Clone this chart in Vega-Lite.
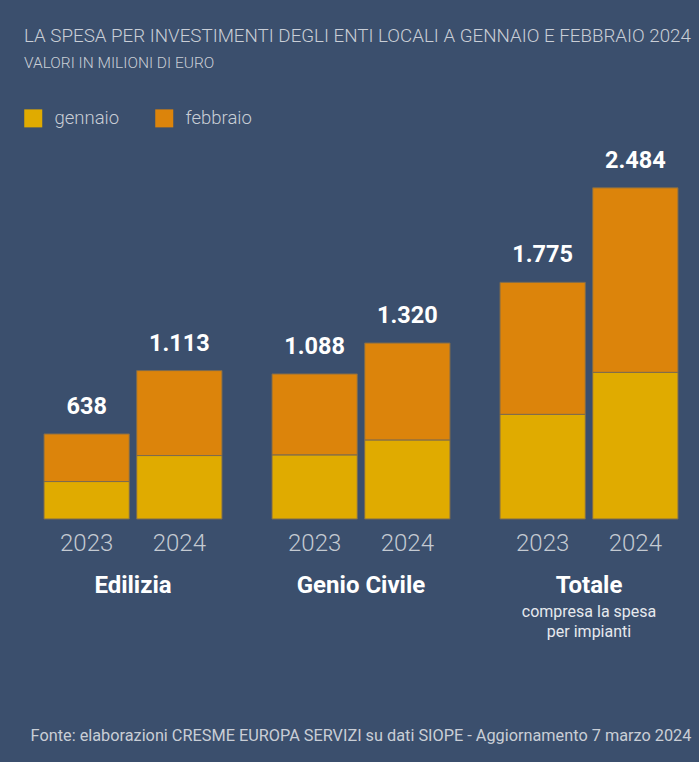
{
  "$schema": "https://vega.github.io/schema/vega-lite/v6.json",
  "background": "#3b4f6d",
  "padding": {"left": 24, "top": 26, "right": 7, "bottom": 20},
  "title": {
    "text": "LA SPESA PER INVESTIMENTI DEGLI ENTI LOCALI A GENNAIO E FEBBRAIO 2024",
    "subtitle": "VALORI IN MILIONI DI EURO",
    "anchor": "start",
    "font": "Roboto",
    "fontSize": 18.75,
    "fontWeight": 300,
    "color": "#c9ced6",
    "subtitleFont": "Roboto",
    "subtitleFontSize": 15.5,
    "subtitleFontWeight": 300,
    "subtitleColor": "#c9ced6",
    "subtitlePadding": 10,
    "offset": 38
  },
  "data": {
    "values": [
      {"cat": "Edilizia", "year": "2023", "month": "gennaio", "mi": 1, "value": 281, "total": 638},
      {"cat": "Edilizia", "year": "2023", "month": "febbraio", "mi": 2, "value": 357, "total": 638},
      {"cat": "Edilizia", "year": "2024", "month": "gennaio", "mi": 1, "value": 476, "total": 1113},
      {"cat": "Edilizia", "year": "2024", "month": "febbraio", "mi": 2, "value": 637, "total": 1113},
      {"cat": "Genio Civile", "year": "2023", "month": "gennaio", "mi": 1, "value": 481, "total": 1088},
      {"cat": "Genio Civile", "year": "2023", "month": "febbraio", "mi": 2, "value": 607, "total": 1088},
      {"cat": "Genio Civile", "year": "2024", "month": "gennaio", "mi": 1, "value": 593, "total": 1320},
      {"cat": "Genio Civile", "year": "2024", "month": "febbraio", "mi": 2, "value": 727, "total": 1320},
      {"cat": "Totale", "year": "2023", "month": "gennaio", "mi": 1, "value": 785, "total": 1775, "note": "compresa la spesa\nper impianti"},
      {"cat": "Totale", "year": "2023", "month": "febbraio", "mi": 2, "value": 990, "total": 1775},
      {"cat": "Totale", "year": "2024", "month": "gennaio", "mi": 1, "value": 1100, "total": 2484},
      {"cat": "Totale", "year": "2024", "month": "febbraio", "mi": 2, "value": 1384, "total": 2484}
    ]
  },
  "facet": {
    "column": {
      "field": "cat",
      "type": "nominal",
      "sort": ["Edilizia", "Genio Civile", "Totale"],
      "header": {
        "title": "Fonte: elaborazioni CRESME EUROPA SERVIZI su dati SIOPE - Aggiornamento 7 marzo 2024",
        "titleOrient": "bottom",
        "labelOrient": "bottom",
        "labelFont": "Roboto",
        "labelFontSize": 24,
        "labelFontWeight": "bold",
        "labelColor": "#ffffff",
        "labelPadding": 19,
        "titleFont": "Roboto",
        "titleFontSize": 16.3,
        "titleFontWeight": "normal",
        "titleColor": "#c9ced6",
        "titlePadding": 120,
        "titleAnchor": "middle"
      }
    }
  },
  "spacing": 50,
  "bounds": "flush",
  "spec": {
    "width": 178,
    "height": 360,
    "layer": [
      {
        "mark": {"type": "bar", "stroke": "#7d6b4f", "strokeWidth": 1},
        "encoding": {
          "x": {
            "field": "year",
            "type": "ordinal",
            "scale": {"paddingInner": 0.08, "paddingOuter": 0},
            "axis": {
              "title": null,
              "labelAngle": 0,
              "ticks": false,
              "domain": false,
              "grid": false,
              "labelFont": "Roboto",
              "labelFontSize": 24,
              "labelFontWeight": 300,
              "labelColor": "#c4cad2",
              "labelPadding": 12
            }
          },
          "y": {
            "field": "value",
            "type": "quantitative",
            "stack": "zero",
            "axis": null,
            "scale": {"domain": [0, 2700], "nice": false}
          },
          "color": {
            "field": "month",
            "type": "nominal",
            "scale": {"domain": ["gennaio", "febbraio"], "range": ["#e0ab00", "#dc840b"]},
            "legend": {
              "orient": "none",
              "legendX": -20,
              "legendY": -50,
              "direction": "horizontal",
              "title": null,
              "padding": 0,
              "symbolType": "square",
              "symbolSize": 324,
              "symbolStrokeWidth": 0,
              "symbolOpacity": 1,
              "labelFont": "Roboto",
              "labelFontSize": 18.5,
              "labelFontWeight": 300,
              "labelColor": "#c9ced6",
              "labelOffset": 12,
              "columnPadding": 35
            }
          },
          "order": {"field": "mi", "type": "quantitative"}
        }
      },
      {
        "transform": [{"filter": "datum.month == 'febbraio'"}],
        "mark": {"type": "text", "font": "Roboto", "fontSize": 23.5, "fontWeight": "bold", "color": "#ffffff", "baseline": "alphabetic", "dy": -20},
        "encoding": {
          "x": {"field": "year", "type": "ordinal"},
          "y": {"field": "total", "type": "quantitative"},
          "text": {"field": "total", "type": "quantitative", "format": ",d"}
        }
      },
      {
        "transform": [{"filter": "datum.note"}],
        "mark": {"type": "text", "font": "Roboto", "fontSize": 16, "color": "#e6e9ee", "baseline": "top", "lineBreak": "\n", "lineHeight": 20, "dy": 85},
        "encoding": {
          "y": {"datum": 0, "type": "quantitative"},
          "text": {"field": "note"}
        }
      }
    ]
  },
  "config": {
    "view": {"stroke": null},
    "locale": {"number": {"decimal": ",", "thousands": ".", "grouping": [3], "currency": ["", " €"]}}
  }
}
